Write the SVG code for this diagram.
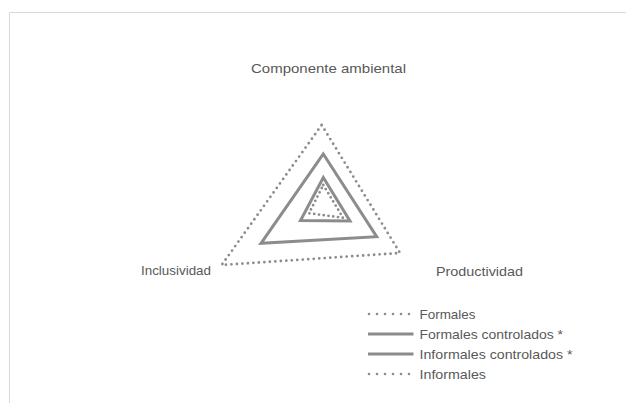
<svg xmlns="http://www.w3.org/2000/svg" width="626" height="403" viewBox="0 0 626 403">
<style>
.bg{fill:#ffffff}
.frame{fill:none;stroke:#d9d9d9;stroke-width:1}
.lbl{font-family:"Liberation Sans",Arial,sans-serif;font-size:13.5px;fill:#595959}
.dot{fill:none;stroke:#8c8c8c;stroke-width:2.8;stroke-linecap:round;stroke-linejoin:round;stroke-dasharray:0 5.5}
.ldot{fill:none;stroke:#8c8c8c;stroke-width:2.6;stroke-linecap:round;stroke-dasharray:0 8}
.solid{fill:none;stroke:#8c8c8c;stroke-width:3;stroke-linejoin:miter}
</style>
<rect class="bg" x="0" y="0" width="626" height="403"/>
<path class="frame" d="M9.5 403 V12.5 H626"/>
<g id="labels">
<text class="lbl" x="328.5" y="73" text-anchor="middle" textLength="155" lengthAdjust="spacingAndGlyphs">Componente ambiental</text>
<text class="lbl" x="141" y="275" textLength="70" lengthAdjust="spacingAndGlyphs">Inclusividad</text>
<text class="lbl" x="436" y="276" textLength="87" lengthAdjust="spacingAndGlyphs">Productividad</text>
</g>
<g id="series">
<g id="formales"><polygon class="dot" points="321.7,125 400,253 221.7,265"/></g>
<g id="formales-controlados"><polygon class="solid" points="323.3,154 376.7,236.7 261,243.3"/></g>
<g id="informales-controlados"><polygon class="solid" points="323.3,177.5 350,221 300.5,220.5"/></g>
<g id="informales"><polygon class="dot" points="323.3,185 343,217.7 309,213.3" style="stroke-dasharray:0 4.8"/></g>
</g>
<g id="legend">
<line class="ldot" x1="369" y1="314" x2="410" y2="314"/>
<text class="lbl" x="419.5" y="319" textLength="56" lengthAdjust="spacingAndGlyphs">Formales</text>
<line class="solid" x1="368" y1="334" x2="413.5" y2="334"/>
<text class="lbl" x="419.5" y="339" textLength="143.5" lengthAdjust="spacingAndGlyphs">Formales controlados *</text>
<line class="solid" x1="368" y1="354" x2="413.5" y2="354"/>
<text class="lbl" x="419.5" y="359" textLength="153" lengthAdjust="spacingAndGlyphs">Informales controlados *</text>
<line class="ldot" x1="369" y1="374" x2="410" y2="374"/>
<text class="lbl" x="419.5" y="379" textLength="66.5" lengthAdjust="spacingAndGlyphs">Informales</text>
</g>
</svg>
